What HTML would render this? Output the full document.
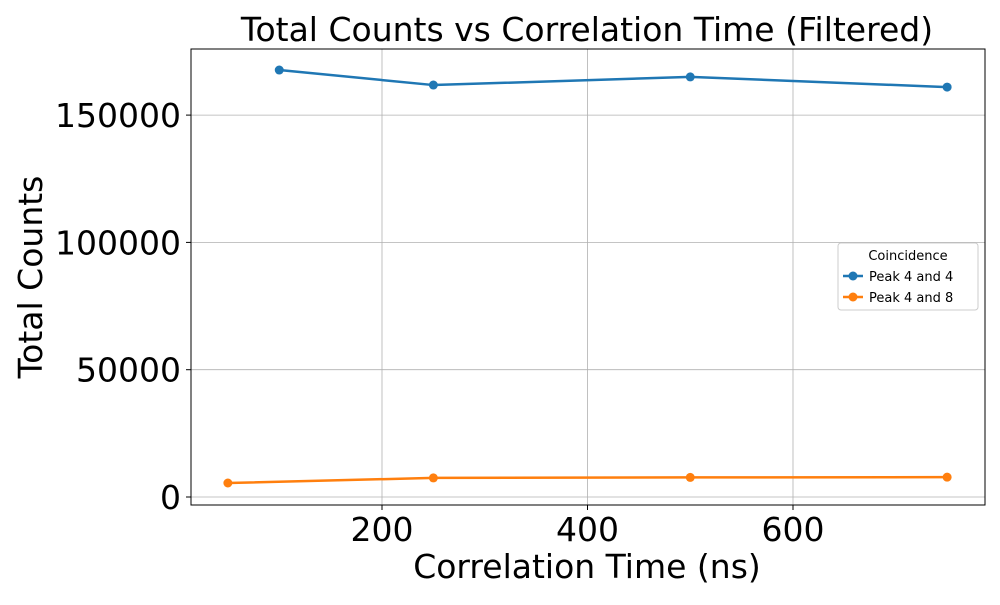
<!DOCTYPE html>
<html><head><meta charset="utf-8"><style>
body{margin:0;background:#fff;}
svg text{font-family:"DejaVu Sans","Liberation Sans",sans-serif;fill:#000;}
</style></head><body>
<svg id="chart" width="1000" height="600">
<rect x="0" y="0" width="1000" height="600" fill="#fff"/>
<g id="grid"></g>
<g id="series"></g>
<rect x="191" y="49" width="794" height="456" fill="none" stroke="#000" stroke-width="1"/>
<g id="axes"></g>
<text x="587" y="41" font-size="33" text-anchor="middle">Total Counts vs Correlation Time (Filtered)</text>
<text x="587" y="578" font-size="33" text-anchor="middle">Correlation Time (ns)</text>
<text transform="translate(42,277) rotate(-90)" font-size="33" text-anchor="middle">Total Counts</text>
<g>
<rect x="838" y="243" width="140" height="67" rx="3" fill="#fff" stroke="#ccc"/>
<text x="908" y="260" font-size="13" text-anchor="middle">Coincidence</text>
<line x1="843" y1="276" x2="863" y2="276" stroke="#1f77b4" stroke-width="2.5"/>
<circle cx="853" cy="276" r="4.5" fill="#1f77b4"/>
<text x="869" y="281" font-size="13">Peak 4 and 4</text>
<line x1="843" y1="297" x2="863" y2="297" stroke="#ff7f0e" stroke-width="2.5"/>
<circle cx="853" cy="297" r="4.5" fill="#ff7f0e"/>
<text x="869" y="302" font-size="13">Peak 4 and 8</text>
</g>
</svg>
<script>
const xTicks=[200,400,600];
const yTicks=[0,50000,100000,150000];
const xValsA=[100,250,500,750];
const countsA=[167700,161800,165000,161000];
const xValsB=[50,250,500,750];
const countsB=[5500,7500,7700,7800];
const NS="http://www.w3.org/2000/svg";
function sx(v){return 176.5+v*1.0275;}
function sy(v){return 497-v*127.3/50000;}
function mk(tag,attrs,parent){const e=document.createElementNS(NS,tag);for(const k in attrs)e.setAttribute(k,attrs[k]);parent.appendChild(e);return e;}
const grid=document.getElementById('grid'),axes=document.getElementById('axes'),ser=document.getElementById('series');
xTicks.forEach(t=>{const x=sx(t);
const g=mk('line',{x1:x,x2:x,y1:49,y2:505,stroke:'#b0b0b0','stroke-width':0.8},grid);


mk('line',{x1:x,x2:x,y1:505,y2:510,stroke:'#000'},axes);
const tx=mk('text',{x:x,y:541,'font-size':33,'text-anchor':'middle'},axes);tx.textContent=t;

});
yTicks.forEach(t=>{const y=sy(t);
const g=mk('line',{x1:191,x2:985,y1:y,y2:y,stroke:'#b0b0b0','stroke-width':0.8},grid);


mk('line',{x1:186,x2:191,y1:y,y2:y,stroke:'#000'},axes);
const tx=mk('text',{x:181,y:y+12,'font-size':33,'text-anchor':'end'},axes);tx.textContent=t;

});
function series(xs,ys,color,name){
const p=mk('polyline',{points:xs.map((x,i)=>sx(x)+','+sy(ys[i])).join(' '),fill:'none',stroke:color,'stroke-width':2.5},ser);


xs.forEach((x,i)=>{const c=mk('circle',{cx:sx(x),cy:sy(ys[i]),r:4.5,fill:color},ser);

});}
series(xValsA,countsA,'#1f77b4','peak-4-and-4');
series(xValsB,countsB,'#ff7f0e','peak-4-and-8');
</script>
</body></html>
